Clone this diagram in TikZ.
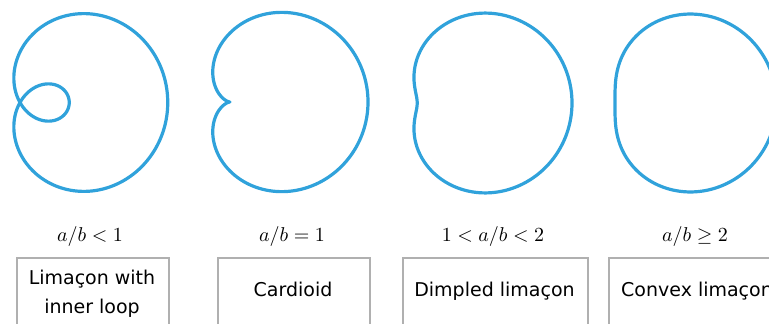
\documentclass[tikz,border=0pt]{standalone}
\usepackage{graphicx}
\usepackage{fontspec}
\newfontfamily\boxfont{DejaVu Sans}
\definecolor{curveblue}{RGB}{48,162,219}
\definecolor{boxgray}{RGB}{176,176,176}
\newcommand{\condtext}[1]{\scalebox{2}{$#1$}}
\begin{document}
\begin{tikzpicture}[x=1pt,y=-1pt,
  curve/.style={draw=curveblue, line width=3.2pt, smooth, line join=round},
  box/.style={draw=boxgray, line width=1.6pt, rectangle, anchor=north west, inner sep=0pt, minimum height=110pt},
  cond/.style={anchor=base, inner sep=0pt},
  boxlabel/.style={font=\boxfont\fontsize{19}{29}\selectfont, align=center, inner sep=0pt}]
\useasboundingbox (0,0) rectangle (769,324);
\clip (0,0) rectangle (769,324);
% curves
\draw[curve] plot[domain=0:360, samples=361] ({20+98.5*(0.5+cos(\x))*cos(\x)}, {102.5+101*(0.5+cos(\x))*sin(\x)});
\draw[curve] plot[domain=0:360, samples=361] ({230+69*(1+cos(\x))*cos(\x)}, {102+69*(1+cos(\x))*sin(\x)});
\draw[curve] plot[domain=0:360, samples=361] ({443+51.6*(1.5+cos(\x))*cos(\x)}, {103+51.6*(1.5+cos(\x))*sin(\x)});
\draw[curve] plot[domain=0:360, samples=361] ({655.4+40.4*(2+cos(\x))*cos(\x)}, {103+40.4*(2+cos(\x))*sin(\x)});
% conditions
\node[cond] (c1) at (90,241) {\condtext{a/b<1}};
\node[cond] (c2) at (292,241) {\condtext{a/b=1}};
\node[cond] (c3) at (493,241) {\condtext{1<a/b<2}};
\node[cond] (c4) at (695,241) {\condtext{a/b\geq 2}};
% boxes
\node[box, minimum width=152pt] (b1) at (16,257) {};
\node[box, minimum width=152pt] (b2) at (217,257) {};
\node[box, minimum width=185pt] (b3) at (402,257) {};
\node[box, minimum width=200pt] (b4) at (608,257) {};
% box labels
\node[boxlabel] (t1) at (92,294) {Limaçon with\\inner loop};
\node[boxlabel, anchor=base] (t2) at (293,296) {Cardioid};
\node[boxlabel, anchor=base] (t3) at (494.5,296) {Dimpled limaçon};
\node[boxlabel, anchor=base west] (t4) at (621,296) {Convex limaçon};
\end{tikzpicture}
\end{document}
